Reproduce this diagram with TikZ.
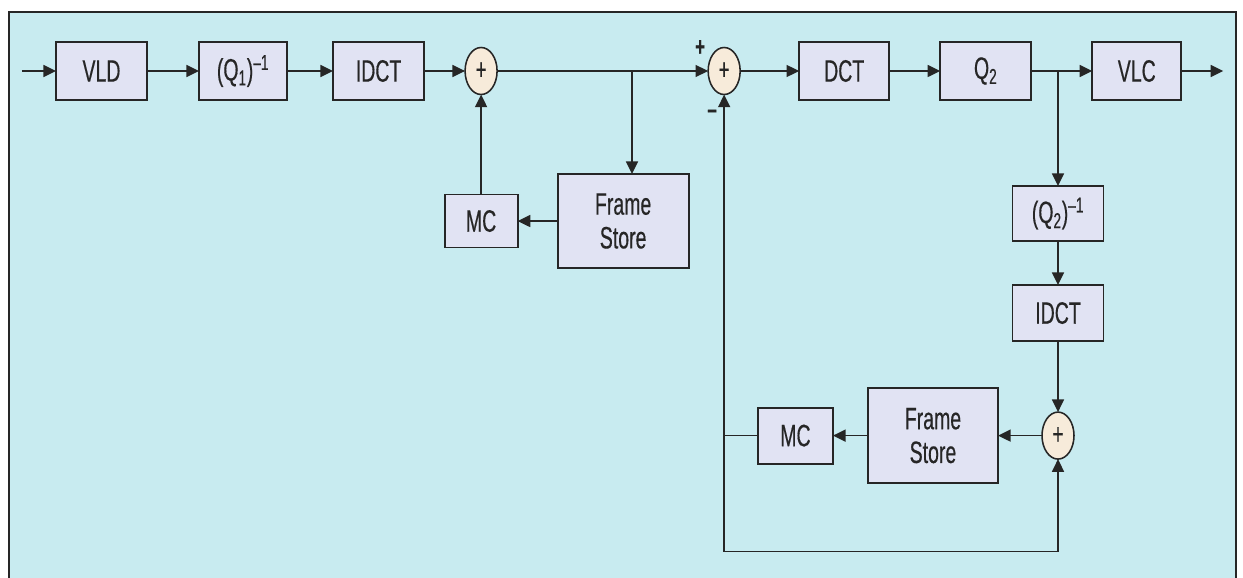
\documentclass[tikz,border=0pt]{standalone}
\usepackage{fontspec}
\setmainfont[FakeStretch=0.63,FakeBold=0.4]{Liberation Sans}
\usepackage{tikz}
\usetikzlibrary{shapes,arrows.meta,positioning,calc}
\definecolor{tcbg}{HTML}{C8EBF0}
\definecolor{tcbox}{HTML}{E1E3F3}
\definecolor{tcsumfill}{HTML}{F7EBDA}
\definecolor{tcline}{HTML}{262626}
\tikzset{
    tc/.style={rectangle, draw=tcline, fill=tcbox, line width=1.3pt,
        minimum width=#1, minimum height=1.45cm, inner sep=0pt, outer sep=0pt,
        align=center, text=tcline, font=\fontsize{22}{24}\selectfont},
    tc/.default=2.275cm,
    tcsum/.style={ellipse, draw=tcline, fill=tcsumfill, line width=1.1pt,
        minimum width=0.8cm, minimum height=1.175cm, inner sep=0pt, outer sep=0pt,
        text=tcline, font=\fontsize{21}{21}\selectfont},
    tcarrow/.style={-{Triangle[length=9pt,width=8.5pt]}, line width=1.2pt, color=tcline},
    tclabel/.style={font=\fontsize{19}{19}\selectfont\bfseries, color=tcline, inner sep=0pt},
}

\begin{document}
\begin{tikzpicture}[x=0.025cm, y=-0.025cm]

    % ── Background panel ───────────────────────────────────────────────────
    \useasboundingbox (0,0) rectangle (1243,578);
    \fill[tcbg] (9,12) rectangle (1236,578);
    \draw[tcline, line width=1.3pt] (9,578) |- (1236,12) -- (1236,578);

    % ── Decoder chain ──────────────────────────────────────────────────────
    \node[tc=2.275cm] (vld) at (101.5,71) {VLD};
    \node[tc=2.2cm, right=1.3cm of vld] (qinv1)
        {(Q\textsubscript{1})\textsuperscript{--1}};
    \node[tc=2.275cm, right=1.15cm of qinv1] (idct1) {IDCT};
    \node[tcsum, right=1.025cm of idct1] (sum1) {+};

    % ── Decoder prediction loop ────────────────────────────────────────────
    \node[tc=1.825cm, minimum height=1.325cm, below=2.5cm of sum1] (mc1) {MC};
    \node[tc=3.275cm, minimum height=2.35cm, right=1.0cm of mc1] (fs1)
        {Frame\\Store};

    % ── Encoder chain ──────────────────────────────────────────────────────
    \node[tcsum, right=5.275cm of sum1] (sum2) {+};
    \node[tc=2.25cm, right=1.475cm of sum2] (dct) {DCT};
    \node[tc=2.275cm, right=1.275cm of dct] (q2) {Q\textsubscript{2}};
    \node[tc=2.225cm, right=1.525cm of q2] (vlc) {VLC};

    \node[tclabel] (plus2) at ($(sum2)+(-24,-23)$) {+};
    \node[tclabel] (minus2) at ($(sum2)+(-12,43)$) {--};

    % ── In / out and branch points ─────────────────────────────────────────
    \coordinate[left=0.85cm of vld.west] (in);
    \coordinate[right=1.05cm of vlc.east] (out);
    \coordinate (tap1) at (632,71);
    \coordinate (tap2) at (1058,71);

    % ── Encoder reconstruction loop ────────────────────────────────────────
    \node[tc=2.275cm, minimum height=1.375cm, below=2.875cm of tap2] (qinv2)
        {(Q\textsubscript{2})\textsuperscript{--1}};
    \node[tc=2.275cm, minimum height=1.4cm, below=1.1cm of qinv2] (idct2) {IDCT};
    \node[tcsum, below=1.775cm of idct2] (sum3) {+};
    \node[tc=3.25cm, minimum height=2.375cm, left=1.1cm of sum3] (fs2)
        {Frame\\Store};
    \node[tc=1.875cm, minimum height=1.4cm, left=0.875cm of fs2] (mc2) {MC};
    \coordinate[below=2.9cm of sum3.center] (loop);

    % ── Arrows ─────────────────────────────────────────────────────────────
    \draw[tcarrow] (in)    -- (vld);
    \draw[tcarrow] (vld)   -- (qinv1);
    \draw[tcarrow] (qinv1) -- (idct1);
    \draw[tcarrow] (idct1) -- (sum1);
    \draw[tcarrow] (sum1)  -- (sum2);
    \draw[tcarrow] (tap1)  -- (fs1.north -| tap1);
    \draw[tcarrow] (fs1)   -- (mc1);
    \draw[tcarrow] (mc1)   -- (sum1);
    \draw[tcarrow] (sum2)  -- (dct);
    \draw[tcarrow] (dct)   -- (q2);
    \draw[tcarrow] (q2)    -- (vlc);
    \draw[tcarrow] (vlc)   -- (out);
    \draw[tcarrow] (tap2)  -- (qinv2);
    \draw[tcarrow] (qinv2) -- (idct2);
    \draw[tcarrow] (idct2) -- (sum3);
    \draw[tcarrow] (sum3)  -- (fs2);
    \draw[tcarrow] (fs2)   -- (mc2);
    \draw[tcarrow] (mc2.west) -| (sum2.south);
    \draw[tcarrow] (mc2.west -| sum2.south) |- (loop) -- (sum3.south);

\end{tikzpicture}
\end{document}
